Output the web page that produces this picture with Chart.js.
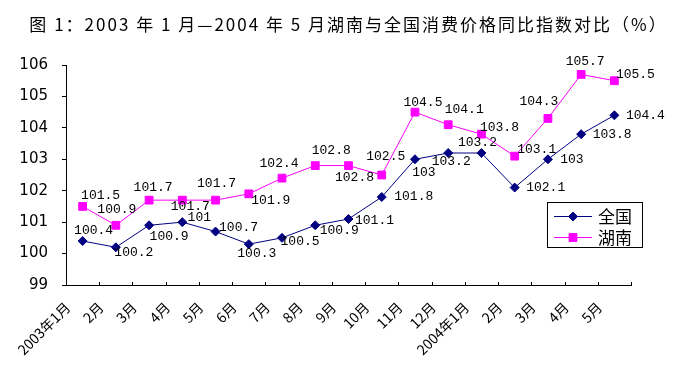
<!DOCTYPE html>
<html>
<head>
<meta charset="utf-8">
<script src="https://cdn.jsdelivr.net/npm/chart.js@4.4.1/dist/chart.umd.min.js"></script>
<style>
  html, body { margin: 0; padding: 0; background: #fff; }
  #wrap { width: 678px; height: 375px; position: relative; }
</style>
</head>
<body>
<div id="wrap"><canvas id="main-chart" width="678" height="375"></canvas></div>
<script>
// Data
const chartTitle = '图 1：2003 年 1 月—2004 年 5 月湖南与全国消费价格同比指数对比（%）';
const months = ['2003年1月', '2月', '3月', '4月', '5月', '6月', '7月', '8月', '9月', '10月', '11月', '12月',
                '2004年1月', '2月', '3月', '4月', '5月'];
const nationalName = '全国';
const hunanName = '湖南';
const national = [100.4, 100.2, 100.9, 101, 100.7, 100.3, 100.5, 100.9, 101.1, 101.8, 103, 103.2, 103.2, 102.1, 103, 103.8, 104.4];
const hunan = [101.5, 100.9, 101.7, 101.7, 101.7, 101.9, 102.4, 102.8, 102.8, 102.5, 104.5, 104.1, 103.8, 103.1, 104.3, 105.7, 105.5];
const yTicks = [99, 100, 101, 102, 103, 104, 105, 106];

// Label nudges (px from the point, label centre) - layout only
const nationalLabelDx = [11, 18, 20, 17, 23, 8, 18, 24, 26, 32, 9, 3, -4, 31, 24, 31, 31];
const nationalLabelDy = [-10, 5, 11, -5, -4, 9, 4, 5, 2, 0, 13, 9, -10, 0, 0, 0, 0];
const hunanLabelDx = [18, 1, 4, 8, 1, 22, -3, 16, 6, 4, 8, 16, 18, 22, -9, 4, 21];
const hunanLabelDy = [-11, -16, -13, 6, -17, 7, -15, -15, 12, -18, -10, -15, -7, -7, -17, -13, -6];

const NAVY = '#000080';
const MAGENTA = '#FF00FF';
const cjk = '"Noto Sans CJK SC", sans-serif';

// Title, value labels, inward x ticks and the boxed legend
const decorPlugin = {
  id: 'decor',
  afterDraw(chart) {
    const ctx = chart.ctx;
    const area = chart.chartArea;
    const xs = chart.scales.x;

    ctx.save();
    // title
    ctx.fillStyle = '#000';
    ctx.font = '17px ' + cjk;
    ctx.letterSpacing = '2px';
    ctx.textAlign = 'center';
    ctx.textBaseline = 'middle';
    ctx.fillText(chartTitle, (area.left + area.right) / 2, 25);
    ctx.letterSpacing = '0px';

    // x ticks pointing up into the plot
    const step = xs.getPixelForValue(1) - xs.getPixelForValue(0);
    ctx.strokeStyle = '#000';
    ctx.lineWidth = 1;
    ctx.beginPath();
    for (let i = 0; i <= months.length; i++) {
      const x = Math.round(xs.getPixelForValue(0) - step / 2 + i * step) + 0.5;
      ctx.moveTo(x, area.bottom);
      ctx.lineTo(x, area.bottom - 3);
    }
    ctx.stroke();

    // value labels
    ctx.font = '13px "Liberation Mono", monospace';
    ctx.fillStyle = '#000';
    const nudges = [[nationalLabelDx, nationalLabelDy], [hunanLabelDx, hunanLabelDy]];
    chart.data.datasets.forEach((ds, di) => {
      const meta = chart.getDatasetMeta(di);
      meta.data.forEach((pt, i) => {
        ctx.fillText(String(ds.data[i]), pt.x + nudges[di][0][i], pt.y + nudges[di][1][i]);
      });
    });

    // legend box
    const bx = area.right - 84, by = area.top + 137, bw = 95, bh = 45;
    ctx.fillStyle = '#fff';
    ctx.fillRect(bx, by, bw, bh);
    ctx.strokeStyle = '#000';
    ctx.strokeRect(bx + 0.5, by + 0.5, bw, bh);
    chart.data.datasets.forEach((ds, di) => {
      const y = by + 14 + di * 21;
      ctx.strokeStyle = ds.borderColor;
      ctx.beginPath();
      ctx.moveTo(bx + 7, y + 0.5);
      ctx.lineTo(bx + 45, y + 0.5);
      ctx.stroke();
      Chart.helpers.drawPoint(ctx, {
        pointStyle: ds.pointStyle, radius: ds.pointRadius, borderWidth: 1
      }, bx + 26, y + 0.5);
      ctx.fillStyle = ds.pointBackgroundColor;
      ctx.strokeStyle = ds.pointBorderColor;
      ctx.fill();
      ctx.fillStyle = '#000';
      ctx.font = '17px ' + cjk;
      ctx.textAlign = 'left';
      ctx.fillText(ds.label, bx + 51, y + 1);
    });
    ctx.restore();
  }
};

new Chart(document.getElementById('main-chart'), {
  type: 'line',
  data: {
    labels: months,
    datasets: [
      {
        label: nationalName,
        data: national,
        borderColor: NAVY,
        borderWidth: 1,
        pointStyle: 'rectRot',
        pointRadius: 4.5,
        pointBackgroundColor: NAVY,
        pointBorderColor: NAVY,
        pointBorderWidth: 1,
        tension: 0
      },
      {
        label: hunanName,
        data: hunan,
        borderColor: MAGENTA,
        borderWidth: 1,
        pointStyle: 'rect',
        pointRadius: 5.5,
        pointBackgroundColor: MAGENTA,
        pointBorderColor: MAGENTA,
        pointBorderWidth: 1,
        tension: 0
      }
    ]
  },
  options: {
    responsive: false,
    animation: false,
    layout: { padding: { top: 65, right: 47, bottom: 0, left: 0 } },
    plugins: {
      legend: { display: false },
      title: { display: false },
      tooltip: { enabled: false }
    },
    scales: {
      x: {
        type: 'category',
        offset: true,
        grid: { display: false, offset: true },
        border: { color: '#000', width: 1 },
        ticks: {
          color: '#000',
          font: { family: 'Noto Sans CJK SC', size: 14 },
          maxRotation: 45, minRotation: 45,
          autoSkip: false,
          labelOffset: -15,
          padding: 6
        },
        afterFit: s => { s.height = 90; }
      },
      y: {
        min: yTicks[0],
        max: yTicks[yTicks.length - 1],
        grid: { drawOnChartArea: false, tickLength: 4, color: '#000' },
        border: { color: '#000', width: 1 },
        afterBuildTicks: s => { s.ticks = yTicks.map(v => ({ value: v })); },
        ticks: {
          color: '#000',
          font: { family: 'DejaVu Sans', size: 15 },
          padding: 14
        },
        afterFit: s => { s.width = 66; }
      }
    }
  },
  plugins: [decorPlugin]
});
</script>
</body>
</html>
